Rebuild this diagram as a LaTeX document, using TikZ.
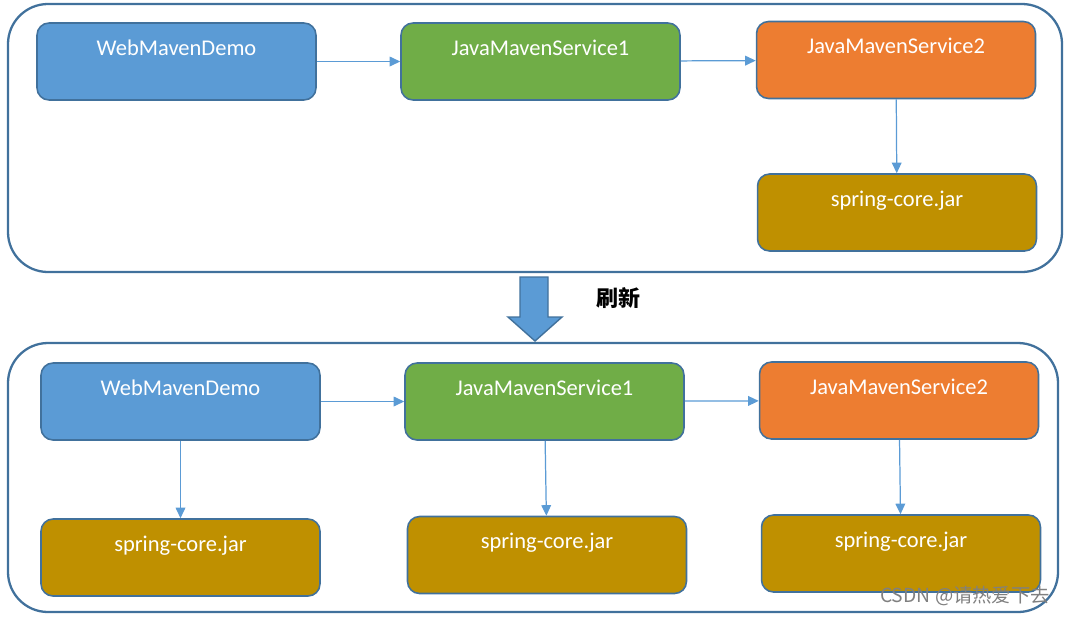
\documentclass[tikz,border=0pt]{standalone}
\usepackage{fontspec}
\setmainfont{Carlito}
\newfontfamily\cjk{Noto Sans CJK SC}
\usetikzlibrary{arrows.meta}
\definecolor{boxblue}{HTML}{5B9BD5}
\definecolor{boxgreen}{HTML}{70AD47}
\definecolor{boxorange}{HTML}{ED7D31}
\definecolor{boxgold}{HTML}{BF9000}
\definecolor{edgeblue}{HTML}{41719C}

\begin{document}
\begin{tikzpicture}[x=0.02cm, y=-0.02cm,
	module/.style={draw=edgeblue, line width=0.9pt, rounded corners=0.24cm, inner sep=0pt,
		minimum width=5.58cm, text height=0.64cm, text depth=0.9cm, text=white,
		font=\fontsize{12.8}{15}\selectfont},
	dep/.style={draw=boxblue, line width=0.7pt, -{Triangle[length=6pt,width=5.5pt]}},
	container/.style={draw=edgeblue, line width=1.3pt, rounded corners=0.8cm}]
	\useasboundingbox (0,0) rectangle (1067,616);

	% before refresh
	\draw[container] (8,4) rectangle (1062,272);
	\node[module, fill=boxblue] (web) at (176.5,61.5) {WebMavenDemo};
	\node[module, fill=boxgreen] (service1) at (540.5,61.5) {JavaMavenService1};
	\node[module, fill=boxorange] (service2) at (896,60) {JavaMavenService2};
	\node[module, fill=boxgold] (jar) at (897,212.5) {spring-core.jar};
	\draw[dep] (web) -- (service1);
	\draw[dep] (service1) -- (service2);
	\draw[dep] (service2) -- (jar);

	% refresh arrow
	\draw[fill=boxblue, draw=edgeblue, line width=0.8pt] (520,277) -- (548,277) -- (548,317) -- (562,317)
		-- (535,341) -- (508,317) -- (520,317) -- cycle;
	\node[font=\cjk\bfseries\fontsize{12.5}{14}\selectfont] (refresh) at (618,298) {刷新};

	% after refresh
	\draw[container] (8,343) rectangle (1058,612);
	\node[module, fill=boxblue] (webB) at (180.5,401.5) {WebMavenDemo};
	\node[module, fill=boxgreen] (service1B) at (544.5,401.5) {JavaMavenService1};
	\node[module, fill=boxorange] (service2B) at (899,400.5) {JavaMavenService2};
	\node[module, fill=boxgold] (jarA) at (180.5,557.5) {spring-core.jar};
	\node[module, fill=boxgold] (jarB) at (547,555) {spring-core.jar};
	\node[module, fill=boxgold] (jarC) at (901,553.5) {spring-core.jar};
	\draw[dep] (webB) -- (service1B);
	\draw[dep] (service1B) -- (service2B);
	\draw[dep] (webB) -- (jarA);
	\draw[dep] (service1B) -- (jarB);
	\draw[dep] (service2B) -- (jarC);

	\node[text=gray, font=\cjk\fontsize{11}{13}\selectfont] (mark) at (965,596) {CSDN @请热爱下去};
\end{tikzpicture}
\end{document}
